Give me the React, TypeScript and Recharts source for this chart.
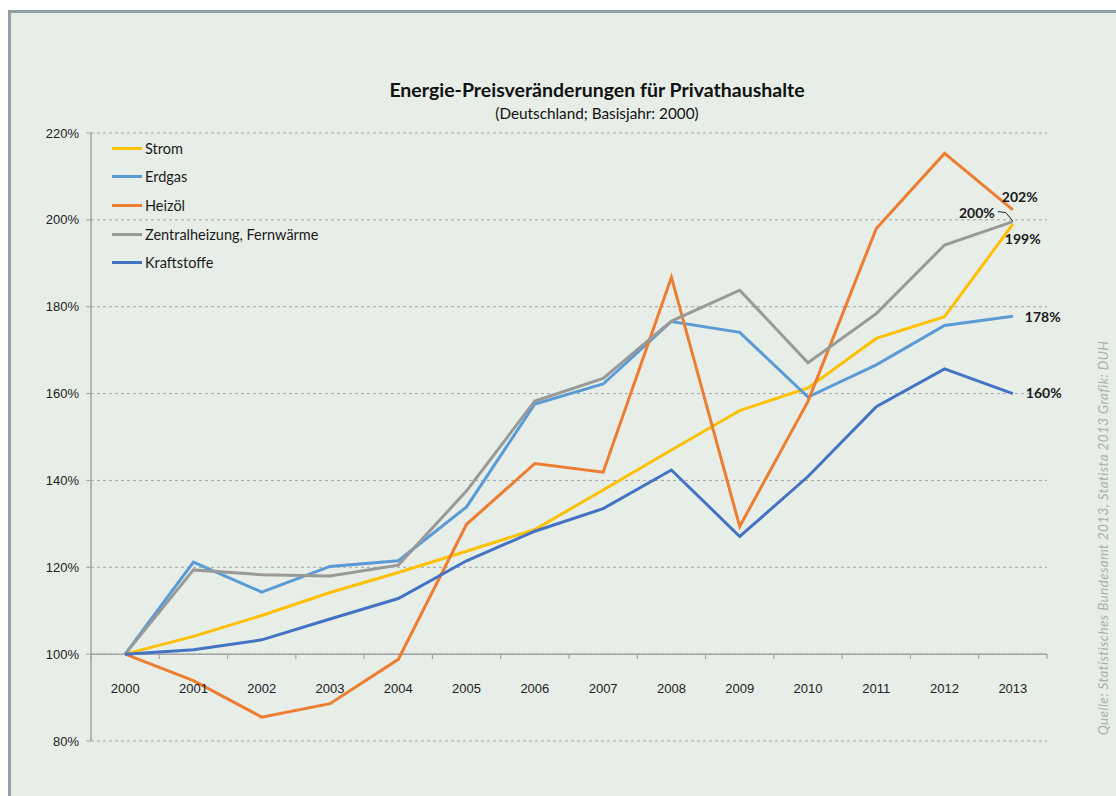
import { LineChart, Line, XAxis, YAxis, CartesianGrid, ReferenceLine, LabelList } from 'recharts';

const years = ['2000', '2001', '2002', '2003', '2004', '2005', '2006', '2007', '2008', '2009', '2010', '2011', '2012', '2013'];
const strom = [100, 104.1, 108.9, 114.2, 118.8, 123.7, 128.7, 137.8, 147.0, 156.1, 161.3, 172.7, 177.7, 199.0];
const erdgas = [100, 121.2, 114.3, 120.2, 121.5, 133.9, 157.6, 162.2, 176.6, 174.1, 159.2, 166.6, 175.7, 177.8];
const heizoel = [100, 93.9, 85.5, 88.6, 98.8, 129.9, 143.9, 141.9, 186.8, 129.4, 158.2, 198.0, 215.3, 202.3];
const zentral = [100, 119.4, 118.3, 118.0, 120.5, 137.6, 158.3, 163.5, 176.7, 183.8, 167.1, 178.4, 194.2, 199.6];
const kraft = [100, 101.0, 103.3, 108.1, 112.8, 121.5, 128.3, 133.5, 142.4, 127.1, 140.9, 157.0, 165.7, 160.0];
const yTicks = [80, 100, 120, 140, 160, 180, 200, 220];

const data = years.map((year, i) => ({
  year,
  strom: strom[i],
  erdgas: erdgas[i],
  heizoel: heizoel[i],
  zentral: zentral[i],
  kraft: kraft[i],
}));

// draw order = legend order
const series = [
  { key: 'strom', name: 'Strom', color: '#ffc000' },
  { key: 'erdgas', name: 'Erdgas', color: '#5b9bd5' },
  { key: 'heizoel', name: 'Heizöl', color: '#ed7d31' },
  { key: 'zentral', name: 'Zentralheizung, Fernwärme', color: '#999999' },
  { key: 'kraft', name: 'Kraftstoffe', color: '#4472c4' },
];

const FONT = "Lato, 'Open Sans', sans-serif";
const TICK_FONT = "'Liberation Sans', Arial, sans-serif";
const AXIS_GRAY = '#a3a3a3';
const HALF_BAND = 34.15;
const LAST = years.length - 1;

function XTick(props: any) {
  const { x, y, payload, index } = props;
  // labels sit between the 100% line and the bottom gridline, ticks hang off the 100% line
  const y100 = y - 86.9;
  return (
    <g>
      <text x={x} y={y - 53} dy="0.35em" textAnchor="middle" fontSize={13} fill="#222" fontFamily={TICK_FONT}>
        {payload.value}
      </text>
      <line x1={x - HALF_BAND} x2={x - HALF_BAND} y1={y100} y2={y100 + 5} stroke={AXIS_GRAY} strokeWidth={1.2} />
      {index === LAST ? (
        <line x1={x + HALF_BAND} x2={x + HALF_BAND} y1={y100} y2={y100 + 5} stroke={AXIS_GRAY} strokeWidth={1.2} />
      ) : null}
    </g>
  );
}

function endLabel(dx: number, dy: number, anchor: 'start' | 'end', leader?: boolean) {
  return (p: any) => {
    if (p.index !== LAST) return null;
    return (
      <g>
        {leader ? (
          <polyline
            points={`${p.x - 15},${p.y - 10} ${p.x - 7},${p.y - 9} ${p.x},${p.y - 0.5}`}
            fill="none"
            stroke="#222"
            strokeWidth={1}
          />
        ) : null}
        <text x={p.x + dx} y={p.y + dy} dy="0.35em" textAnchor={anchor} fontSize={14} fontWeight={700} fill="#1a1a1a" fontFamily={FONT}>
          {Math.round(p.value)}%
        </text>
      </g>
    );
  };
}

const labels: Record<string, (p: any) => any> = {
  strom: endLabel(-8, 15, 'start'),
  erdgas: endLabel(12, 1, 'start'),
  heizoel: endLabel(-11, -13, 'start'),
  zentral: endLabel(-18, -8, 'end', true),
  kraft: endLabel(13, 0, 'start'),
};

export default function App() {
  return (
    <div style={{ position: 'fixed', left: 0, top: 0, width: 1116, height: 796, overflow: 'hidden', background: '#fff' }}>
      <div
        style={{
          position: 'absolute',
          left: 8,
          top: 10,
          width: 1120,
          height: 800,
          borderTop: '3px solid #8fa1a5',
          borderLeft: '3px solid #8fa1a5',
          background: '#e7eee8',
          boxSizing: 'border-box',
        }}
      />
      <div style={{ position: 'absolute', left: 297, top: 79, width: 600, textAlign: 'center', fontFamily: FONT, fontWeight: 700, fontSize: 19.5, lineHeight: '22px', color: '#111' }}>
        Energie-Preisveränderungen für Privathaushalte
      </div>
      <div style={{ position: 'absolute', left: 297, top: 104, width: 600, textAlign: 'center', fontFamily: FONT, fontSize: 15.3, lineHeight: '18px', color: '#111' }}>
        (Deutschland; Basisjahr: 2000)
      </div>
      <div
        style={{
          position: 'absolute',
          left: 1103,
          top: 538,
          transform: 'translate(-50%, -50%) rotate(-90deg)',
          whiteSpace: 'nowrap',
          fontFamily: FONT,
          fontStyle: 'italic',
          fontSize: 13.5,
          letterSpacing: 0.4,
          color: '#a9b1ac',
        }}
      >
        Quelle: Statistisches Bundesamt 2013, Statista 2013 Grafik: DUH
      </div>
      <div style={{ position: 'absolute', left: 0, top: 0 }}>
        <LineChart width={1116} height={796} data={data} margin={{ top: 133, right: 69, bottom: 35, left: 31 }}>
          <CartesianGrid vertical={false} stroke={AXIS_GRAY} strokeDasharray="3 3" />
          <XAxis
            dataKey="year"
            padding={{ left: HALF_BAND, right: HALF_BAND }}
            axisLine={false}
            tickLine={false}
            tickSize={0}
            tickMargin={0}
            height={20}
            interval={0}
            tick={<XTick />}
          />
          <YAxis
            domain={[80, 220]}
            ticks={yTicks}
            width={60}
            tickFormatter={(v: number) => `${v}%`}
            axisLine={{ stroke: AXIS_GRAY, strokeWidth: 1.5 }}
            tickLine={{ stroke: AXIS_GRAY }}
            tickSize={5}
            tickMargin={7}
            tick={{ fontSize: 13, fill: '#222', fontFamily: TICK_FONT }}
          />
          <ReferenceLine y={100} stroke={AXIS_GRAY} strokeWidth={1.5} />
          {series.map((s) => (
            <Line key={s.key} type="linear" dataKey={s.key} name={s.name} stroke={s.color} strokeWidth={3} dot={false} isAnimationActive={false}>
              <LabelList dataKey={s.key} content={labels[s.key]} />
            </Line>
          ))}
        </LineChart>
      </div>
      <div style={{ position: 'absolute', left: 112, top: 134, fontFamily: FONT, fontSize: 14.5, color: '#1a1a1a' }}>
        {series.map((s) => (
          <div key={s.key} style={{ height: 28.6, display: 'flex', alignItems: 'center' }}>
            <span style={{ display: 'inline-block', width: 30, height: 3, background: s.color, marginRight: 3 }} />
            <span>{s.name}</span>
          </div>
        ))}
      </div>
    </div>
  );
}
